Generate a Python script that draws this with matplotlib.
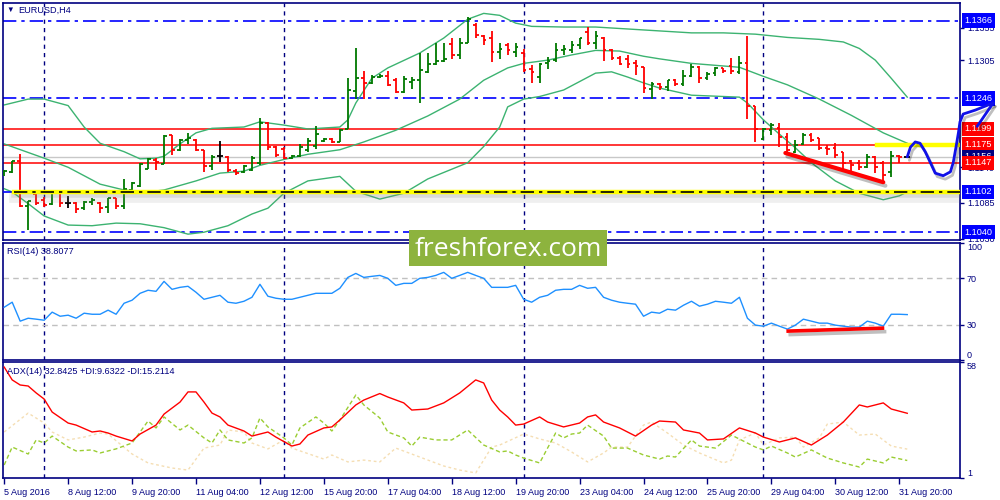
'''EURUSD H4 chart in MetaTrader style: bars, Bollinger bands, RSI and ADX panes.'''

import matplotlib
matplotlib.use('Agg')
import matplotlib.pyplot as plt
import matplotlib.patheffects as pe
import matplotlib.transforms as mtransforms
from matplotlib.patches import Rectangle

NAVY = '#000080'
UP, DOWN, DOJI = '#007800', '#ff0000', '#000000'
BB_COLOR = '#3cb371'
DASHDOT = (0, (8, 3, 2, 3))

# H4 bars from 5 Aug 2016 04:00 to 1 Sep 00:00
OPENS = [1.1130, 1.1133, 1.1150, 1.1080, 1.1099, 1.1090, 1.1084, 1.1102, 1.1085, 1.1085,
         1.1077, 1.1087, 1.1085, 1.1079, 1.1093, 1.1080, 1.1105, 1.1111, 1.1137, 1.1151,
         1.1145, 1.1190, 1.1167, 1.1182, 1.1182, 1.1167, 1.1142, 1.1157, 1.1156, 1.1134,
         1.1133, 1.1136, 1.1147, 1.1208, 1.1171, 1.1168, 1.1154, 1.1157, 1.1167, 1.1173,
         1.1180, 1.1183, 1.1179, 1.1199, 1.1257, 1.1277, 1.1270, 1.1279, 1.1280, 1.1274,
         1.1256, 1.1271, 1.1274, 1.1287, 1.1299, 1.1303, 1.1330, 1.1313, 1.1331, 1.1359,
         1.1342, 1.1339, 1.1317, 1.1328, 1.1317, 1.1316, 1.1291, 1.1279, 1.1300, 1.1305,
         1.1320, 1.1320, 1.1328, 1.1348, 1.1331, 1.1339, 1.1320, 1.1308, 1.1307, 1.1300,
         1.1294, 1.1260, 1.1268, 1.1263, 1.1274, 1.1268, 1.1280, 1.1294, 1.1277, 1.1285,
         1.1293, 1.1296, 1.1287, 1.1300, 1.1234, 1.1183, 1.1197, 1.1200, 1.1187, 1.1164,
         1.1176, 1.1190, 1.1185, 1.1170, 1.1170, 1.1164, 1.1150, 1.1147, 1.1140, 1.1156,
         1.1147, 1.1133, 1.1158, 1.1156]
HIGHS = [1.1136, 1.1150, 1.1160, 1.1088, 1.1102, 1.1094, 1.1102, 1.1102, 1.1096, 1.1087,
         1.1088, 1.1093, 1.1087, 1.1093, 1.1093, 1.1122, 1.1117, 1.1147, 1.1154, 1.1154,
         1.1190, 1.1190, 1.1183, 1.1193, 1.1183, 1.1167, 1.1159, 1.1180, 1.1157, 1.1137,
         1.1143, 1.1157, 1.1216, 1.1210, 1.1173, 1.1171, 1.1159, 1.1176, 1.1185, 1.1203,
         1.1185, 1.1185, 1.1199, 1.1277, 1.1323, 1.1288, 1.1282, 1.1283, 1.1288, 1.1277,
         1.1280, 1.1279, 1.1316, 1.1316, 1.1331, 1.1331, 1.1339, 1.1339, 1.1371, 1.1362,
         1.1343, 1.1350, 1.1331, 1.1331, 1.1331, 1.1322, 1.1297, 1.1300, 1.1310, 1.1331,
         1.1328, 1.1334, 1.1339, 1.1356, 1.1350, 1.1340, 1.1322, 1.1311, 1.1313, 1.1305,
         1.1294, 1.1271, 1.1270, 1.1274, 1.1276, 1.1290, 1.1299, 1.1296, 1.1287, 1.1294,
         1.1293, 1.1308, 1.1311, 1.1342, 1.1234, 1.1200, 1.1208, 1.1208, 1.1193, 1.1182,
         1.1193, 1.1193, 1.1185, 1.1174, 1.1177, 1.1164, 1.1151, 1.1151, 1.1160, 1.1157,
         1.1150, 1.1165, 1.1159, 1.1156]
LOWS = [1.1127, 1.1131, 1.1079, 1.1043, 1.1082, 1.1079, 1.1082, 1.1079, 1.1077, 1.1070,
        1.1074, 1.1082, 1.1070, 1.1070, 1.1076, 1.1076, 1.1100, 1.1110, 1.1137, 1.1136,
        1.1145, 1.1159, 1.1165, 1.1176, 1.1165, 1.1133, 1.1136, 1.1148, 1.1133, 1.1128,
        1.1131, 1.1134, 1.1143, 1.1167, 1.1156, 1.1153, 1.1153, 1.1156, 1.1164, 1.1168,
        1.1179, 1.1177, 1.1179, 1.1199, 1.1245, 1.1245, 1.1268, 1.1277, 1.1265, 1.1254,
        1.1254, 1.1260, 1.1239, 1.1285, 1.1297, 1.1302, 1.1307, 1.1307, 1.1331, 1.1339,
        1.1328, 1.1302, 1.1307, 1.1313, 1.1310, 1.1287, 1.1270, 1.1270, 1.1291, 1.1302,
        1.1313, 1.1316, 1.1322, 1.1328, 1.1322, 1.1303, 1.1305, 1.1297, 1.1293, 1.1282,
        1.1254, 1.1245, 1.1259, 1.1257, 1.1265, 1.1265, 1.1279, 1.1270, 1.1274, 1.1280,
        1.1285, 1.1283, 1.1283, 1.1214, 1.1179, 1.1182, 1.1190, 1.1171, 1.1162, 1.1162,
        1.1174, 1.1179, 1.1167, 1.1159, 1.1154, 1.1136, 1.1133, 1.1136, 1.1139, 1.1131,
        1.1117, 1.1125, 1.1147, 1.1156]
CLOSES = [1.1134, 1.1150, 1.1080, 1.1088, 1.1085, 1.1082, 1.1102, 1.1085, 1.1085, 1.1076,
          1.1087, 1.1090, 1.1077, 1.1093, 1.1080, 1.1107, 1.1116, 1.1145, 1.1153, 1.1148,
          1.1188, 1.1167, 1.1182, 1.1185, 1.1167, 1.1142, 1.1156, 1.1157, 1.1136, 1.1131,
          1.1142, 1.1154, 1.1208, 1.1171, 1.1159, 1.1154, 1.1157, 1.1171, 1.1180, 1.1191,
          1.1183, 1.1179, 1.1197, 1.1259, 1.1277, 1.1270, 1.1279, 1.1280, 1.1267, 1.1256,
          1.1276, 1.1274, 1.1290, 1.1299, 1.1303, 1.1307, 1.1313, 1.1331, 1.1368, 1.1343,
          1.1336, 1.1317, 1.1322, 1.1320, 1.1325, 1.1290, 1.1287, 1.1299, 1.1303, 1.1320,
          1.1322, 1.1328, 1.1339, 1.1331, 1.1342, 1.1320, 1.1308, 1.1299, 1.1299, 1.1296,
          1.1262, 1.1268, 1.1263, 1.1274, 1.1268, 1.1280, 1.1294, 1.1277, 1.1283, 1.1293,
          1.1288, 1.1288, 1.1300, 1.1234, 1.1199, 1.1199, 1.1205, 1.1187, 1.1167, 1.1174,
          1.1190, 1.1182, 1.1170, 1.1168, 1.1159, 1.1147, 1.1143, 1.1140, 1.1156, 1.1140,
          1.1128, 1.1157, 1.1156, 1.1156]

# Bollinger bands (20) read at selected bars: (bar, price)
BB_UPPER = [(0, 1.1236), (3, 1.1245), (5, 1.1245), (8, 1.1235), (10, 1.1202), (12, 1.1177),
            (15, 1.1164), (17, 1.1153), (19, 1.1154), (20, 1.1157), (22, 1.1176), (24, 1.1193),
            (26, 1.1200), (30, 1.1202), (32, 1.1210), (35, 1.1205), (38, 1.1199), (42, 1.1202),
            (43, 1.1213), (44, 1.1239), (46, 1.1277), (48, 1.1293), (52, 1.1316), (55, 1.1339),
            (58, 1.1368), (60, 1.1377), (62, 1.1374), (64, 1.1362), (66, 1.1357), (70, 1.1356),
            (74, 1.1356), (78, 1.1353), (82, 1.1350), (86, 1.1347), (90, 1.1347), (94, 1.1345),
            (98, 1.1340), (102, 1.1337), (105, 1.1333), (107, 1.1323), (109, 1.1305),
            (111, 1.1277), (113, 1.1248)]
BB_MIDDLE = [(0, 1.1176), (5, 1.1154), (8, 1.1140), (12, 1.1114), (15, 1.1105), (18, 1.1102),
             (20, 1.1105), (24, 1.1119), (27, 1.1131), (30, 1.1134), (32, 1.1143), (35, 1.1152),
             (38, 1.1160), (42, 1.1167), (45, 1.1179), (49, 1.1197), (53, 1.1219), (57, 1.1245),
             (60, 1.1274), (63, 1.1293), (65, 1.1300), (68, 1.1305), (71, 1.1313), (74, 1.1320),
             (77, 1.1319), (80, 1.1311), (82, 1.1307), (86, 1.1300), (92, 1.1294), (95, 1.1280),
             (98, 1.1267), (102, 1.1245), (106, 1.1220), (110, 1.1193), (113, 1.1177)]
BB_LOWER = [(0, 1.1107), (1, 1.1102), (3, 1.1084), (5, 1.1065), (8, 1.1051), (11, 1.1050),
            (14, 1.1054), (17, 1.1053), (20, 1.1047), (23, 1.1037), (25, 1.1040), (28, 1.1050),
            (31, 1.1068), (33, 1.1077), (35, 1.1100), (38, 1.1119), (42, 1.1126), (44, 1.1103),
            (47, 1.1091), (50, 1.1100), (53, 1.1122), (56, 1.1137), (58, 1.1147), (60, 1.1172),
            (62, 1.1202), (63, 1.1233), (65, 1.1245), (67, 1.1249), (70, 1.1259), (72, 1.1272),
            (74, 1.1285), (76, 1.1287), (78, 1.1279), (80, 1.1270), (82, 1.1262), (86, 1.1251),
            (92, 1.1248), (93, 1.1239), (95, 1.1213), (97, 1.1191), (99, 1.1170), (101, 1.1147),
            (104, 1.1119), (107, 1.1100), (110, 1.1090), (112, 1.1096), (113, 1.1102)]

RSI = [45.1, 49.4, 33.2, 35.7, 34.9, 34.0, 40.9, 37.4, 38.3, 35.7,
       40.0, 39.1, 39.1, 42.6, 39.1, 48.5, 51.1, 57.0, 59.6, 58.7,
       67.2, 60.4, 62.1, 63.0, 57.9, 51.9, 53.6, 55.3, 49.4, 48.5,
       50.2, 53.6, 64.7, 54.5, 52.8, 51.9, 51.9, 53.6, 55.3, 57.0,
       57.0, 57.0, 61.3, 70.6, 74.0, 70.6, 71.5, 72.3, 69.8, 63.8,
       65.5, 65.5, 69.8, 70.6, 72.3, 74.9, 69.8, 72.3, 74.9, 72.3,
       69.8, 62.1, 62.1, 62.1, 63.8, 51.9, 49.4, 53.6, 55.3, 59.6,
       60.4, 60.4, 63.8, 61.3, 62.1, 53.6, 51.1, 49.4, 48.5, 47.7,
       37.4, 40.9, 40.0, 43.4, 42.6, 46.8, 50.2, 46.0, 47.7, 50.2,
       49.4, 48.5, 53.6, 35.7, 29.8, 28.9, 31.5, 28.9, 26.4, 29.8,
       34.9, 33.2, 31.5, 31.5, 29.8, 28.9, 28.1, 28.1, 33.2, 31.5,
       28.9, 39.1, 39.1, 38.8]

# ADX(14) lines read at selected bars: (bar, value)
ADX = [(0, 55.5), (1, 49.2), (2, 46.7), (3, 46.2), (4, 42.8), (5, 39.8), (6, 33.4), (8, 28.0),
       (9, 27.0), (11, 23.6), (12, 24.1), (13, 23.1), (14, 21.6), (16, 19.2), (17, 22.6),
       (19, 27.0), (20, 32.4), (22, 38.3), (23, 43.3), (24, 43.3), (25, 38.3), (26, 32.9),
       (27, 31.0), (28, 27.0), (30, 24.1), (31, 21.6), (32, 22.6), (33, 23.6), (34, 21.1),
       (36, 16.7), (37, 17.7), (38, 22.1), (40, 25.6), (41, 26.1), (42, 29.5), (44, 36.9),
       (45, 39.3), (47, 42.5), (48, 40.8), (50, 37.9), (51, 34.4), (53, 34.9), (55, 37.9),
       (57, 42.8), (59, 49.2), (60, 47.7), (61, 39.3), (62, 34.4), (63, 31.0), (64, 27.0),
       (65, 27.5), (67, 31.0), (68, 28.5), (70, 26.1), (72, 28.0), (73, 31.0), (74, 32.0),
       (75, 28.5), (77, 25.6), (79, 21.6), (81, 27.0), (82, 29.0), (84, 28.5), (85, 24.6),
       (87, 23.1), (88, 19.7), (90, 20.2), (92, 25.6), (94, 23.1), (95, 21.1), (97, 18.7),
       (99, 20.7), (101, 17.2), (103, 22.1), (105, 28.5), (107, 36.9), (108, 35.9),
       (110, 37.9), (111, 34.9), (113, 32.8)]
PLUS_DI = [(0, 7.4), (1, 16.2), (3, 12.8), (4, 19.7), (5, 18.2), (6, 21.6), (8, 16.2),
           (9, 14.3), (11, 14.8), (12, 13.3), (14, 15.3), (16, 18.2), (18, 29.0), (19, 25.6),
           (20, 31.0), (22, 24.6), (23, 27.0), (25, 20.7), (26, 18.2), (27, 24.6), (28, 19.7),
           (30, 18.2), (31, 20.7), (32, 30.5), (33, 26.1), (35, 20.7), (36, 17.2), (37, 25.6),
           (39, 31.0), (40, 28.0), (41, 24.1), (42, 29.5), (44, 41.8), (45, 36.9), (47, 30.5),
           (48, 23.6), (50, 20.7), (51, 16.7), (52, 21.1), (54, 19.7), (56, 19.7), (58, 24.6),
           (60, 17.2), (62, 13.8), (63, 14.3), (64, 12.3), (65, 10.8), (67, 8.4), (69, 23.1),
           (70, 20.7), (71, 22.6), (72, 23.1), (73, 27.0), (75, 21.6), (76, 15.7), (78, 15.7),
           (80, 12.3), (82, 10.3), (83, 11.8), (84, 11.3), (86, 19.7), (87, 16.7), (89, 15.7),
           (91, 22.1), (94, 16.2), (95, 14.8), (96, 16.7), (98, 13.3), (99, 11.3), (101, 14.8),
           (103, 10.8), (105, 8.4), (107, 6.4), (108, 10.3), (110, 8.4), (111, 11.3), (113, 9.6)]
MINUS_DI = [(0, 23.6), (3, 32.9), (5, 28.0), (6, 23.6), (8, 19.7), (10, 21.1), (12, 23.1),
            (13, 22.6), (16, 12.8), (18, 8.4), (21, 5.9), (23, 4.9), (25, 15.7), (27, 17.2),
            (28, 24.6), (30, 23.6), (31, 18.2), (33, 15.3), (35, 19.7), (36, 15.7), (40, 10.3),
            (41, 12.3), (43, 8.9), (45, 9.8), (47, 8.9), (49, 15.7), (52, 11.3), (55, 6.9),
            (57, 4.9), (59, 3.5), (60, 9.8), (61, 16.2), (62, 17.2), (65, 22.6), (67, 20.2),
            (69, 18.2), (71, 13.8), (73, 8.9), (75, 13.3), (76, 16.2), (78, 16.2), (80, 27.0),
            (81, 28.5), (83, 23.1), (85, 17.2), (87, 13.3), (90, 8.4), (91, 9.8), (92, 19.7),
            (94, 23.1), (95, 17.2), (97, 20.7), (99, 21.1), (100, 16.2), (102, 20.7), (103, 27.5),
            (105, 28.5), (107, 22.1), (109, 22.6), (111, 16.7), (113, 15.2)]

# horizontal levels and their price tags
BLUE_LEVELS = [1.1366, 1.1246, 1.1040]
RED_LEVELS = [1.1199, 1.1175, 1.1147]
SUPPORT = 1.1102
BID = 1.1156
PRICE_TAGS = [(1.1366, 'blue'), (1.1246, 'blue'), (1.1199, 'red'), (1.1175, 'red'),
              (1.1156, NAVY), (1.1147, 'red'), (1.1102, 'blue'), (1.1040, 'blue')]
# scale values left visible beside the tags
PRICE_TICKS = [1.1355, 1.1305, 1.1140, 1.1085, 1.1030]

# hand drawn analysis
TREND_BARS, TREND_PRICES = [97.75, 110.0], [1.1162, 1.1117]
RSI_TREND_BARS, RSI_TREND_VALUES = [98.1, 109.9], [24.7, 27.2]
FORECAST_BARS = [113, 113.4, 114, 114.6, 115.25, 115.9, 116.5, 117.5, 118.4, 118.75,
                 119.1, 119.4, 119.6, 120, 121.5, 123.75]
FORECAST_PRICES = [1.1156, 1.1171, 1.1179, 1.1177, 1.1164, 1.1147, 1.1131, 1.1127, 1.1133,
                   1.1147, 1.1171, 1.1193, 1.1210, 1.1222, 1.1228, 1.1239]
ARROW_BARS, ARROW_PRICES = [121.75, 123.75], [1.1203, 1.1239]

DATE_LABELS = ['5 Aug 2016', '8 Aug 12:00', '9 Aug 20:00', '11 Aug 04:00', '12 Aug 12:00',
               '15 Aug 20:00', '17 Aug 04:00', '18 Aug 12:00', '19 Aug 20:00', '23 Aug 04:00',
               '24 Aug 12:00', '25 Aug 20:00', '29 Aug 04:00', '30 Aug 12:00', '31 Aug 20:00']
DATE_BARS = list(range(0, 113, 8))
WEEK_STARTS = [5, 35, 65, 95]

XMIN, XMAX = -0.15, 119.6
TICK = 0.35


def shadow(dx=1.5, dy=-2.5, alpha=0.25, **kw):
    '''Drop shadow used for the drawn objects.'''
    return [pe.SimpleLineShadow(offset=(dx, dy), shadow_color='black', alpha=alpha, **kw),
            pe.Normal()]


def style_pane(ax):
    '''MT4-like frame and right hand scale.'''
    for spine in ax.spines.values():
        spine.set_color(NAVY)
        spine.set_linewidth(1.2)
    ax.yaxis.tick_right()
    ax.tick_params(axis='y', direction='out', length=3, width=1, colors=NAVY,
                   labelsize=6.5, pad=2)
    ax.set_xlim(XMIN, XMAX)
    for b in WEEK_STARTS:
        ax.axvline(b, color=NAVY, ls=(0, (3, 3)), lw=1, zorder=1)


def split(points):
    return [p[0] for p in points], [p[1] for p in points]


def draw_main(ax):
    '''Price bars, bands, levels and annotations.'''
    for band in (BB_UPPER, BB_MIDDLE, BB_LOWER):
        ax.plot(*split(band), color=BB_COLOR, lw=1, zorder=2)

    for p in BLUE_LEVELS:
        ax.axhline(p, color='blue', lw=1.2, ls=DASHDOT, zorder=1.5)
    ax.axhline(BID, color='#c8c8c8', lw=1, zorder=1.5)
    for p in RED_LEVELS:
        ax.axhline(p, color='red', lw=1.1, zorder=1.6)

    # yellow support with black dash-dot on top, soft shadow under it
    ax.plot([XMIN, 1.25], [SUPPORT, SUPPORT], color='blue', lw=1.2, zorder=4)
    ax.plot([1.25, XMAX], [SUPPORT, SUPPORT], color='yellow', lw=3.2, zorder=4,
            path_effects=[pe.SimpleLineShadow(offset=(0, -4), shadow_color='gray',
                                              alpha=0.12, linewidth=7),
                          pe.SimpleLineShadow(offset=(0, -2.5), shadow_color='gray',
                                              alpha=0.18, linewidth=4),
                          pe.Normal()])
    ax.plot([1.25, XMAX], [SUPPORT, SUPPORT], color='black', lw=1.2, ls=DASHDOT, zorder=4.1)
    ax.plot([109.25, XMAX], [1.1175, 1.1175], color='yellow', lw=3.2, zorder=4)

    for i, (o, h, l, c) in enumerate(zip(OPENS, HIGHS, LOWS, CLOSES)):
        color = UP if c > o else DOWN if c < o else DOJI
        ax.vlines(i, l, h, color=color, lw=1.3, zorder=3)
        ax.hlines(o, i - TICK, i, color=color, lw=1.3, zorder=3)
        ax.hlines(c, i, i + TICK, color=color, lw=1.3, zorder=3)

    ax.plot(TREND_BARS, TREND_PRICES, color='red', lw=3, solid_capstyle='round', zorder=5,
            path_effects=shadow())
    ax.plot(FORECAST_BARS, FORECAST_PRICES, color='#1010e8', lw=2, clip_on=False, zorder=9,
            solid_capstyle='round', path_effects=shadow())
    ax.plot(ARROW_BARS, ARROW_PRICES, color='#1010e8', lw=2, clip_on=False, zorder=9,
            solid_capstyle='round', path_effects=shadow())

    ax.set_ylim(1.1028, 1.1393)
    ax.set_yticks(PRICE_TICKS)
    ax.set_yticklabels([f'{t:.4f}' for t in PRICE_TICKS])

    trans = mtransforms.blended_transform_factory(ax.transAxes, ax.transData)
    for price, color in PRICE_TAGS:
        ax.text(1.0045, price, f'{price:.4f}', transform=trans, color='white', fontsize=6.6,
                ha='left', va='center', clip_on=False, zorder=8,
                bbox=dict(boxstyle='square,pad=0.28', fc=color, ec='none'))


def draw_rsi(ax):
    ax.plot(range(len(RSI)), RSI, color='#1e90ff', lw=1, zorder=3)
    for level in (30, 70):
        ax.axhline(level, color='#c0c0c0', ls=(0, (4, 3)), lw=1, zorder=1)
    ax.plot(RSI_TREND_BARS, RSI_TREND_VALUES, color='red', lw=2.6, zorder=5,
            path_effects=shadow())
    ax.set_ylim(0, 100)
    ax.set_yticks([100, 70, 30, 0])
    labels = ax.get_yticklabels()
    labels[0].set_va('top')
    labels[-1].set_va('bottom')


def draw_adx(ax):
    ax.plot(*split(MINUS_DI), color='#f5deb3', lw=1, ls=(0, (2, 2)), zorder=2)
    ax.plot(*split(PLUS_DI), color='#9acd32', lw=1, ls=(0, (3, 2)), zorder=2.1)
    ax.plot(*split(ADX), color='red', lw=1, zorder=3)
    ax.set_ylim(1, 58)
    ax.set_yticks([58, 1])
    labels = ax.get_yticklabels()
    labels[0].set_va('top')
    labels[-1].set_va('bottom')
    ax.set_xticks(DATE_BARS)
    ax.set_xticklabels(DATE_LABELS, ha='left')
    ax.tick_params(axis='x', direction='out', length=4, width=1, colors=NAVY,
                   labelsize=6.5, pad=3)


plt.rcParams['font.family'] = ['Liberation Sans', 'DejaVu Sans']

fig = plt.figure(figsize=(10, 5), dpi=100)
ax_main = fig.add_axes([0.003, 0.52, 0.957, 0.474])
ax_rsi = fig.add_axes([0.003, 0.28, 0.957, 0.234])
ax_adx = fig.add_axes([0.003, 0.044, 0.957, 0.232])

for ax in (ax_main, ax_rsi, ax_adx):
    style_pane(ax)
for ax in (ax_main, ax_rsi):
    ax.tick_params(axis='x', bottom=False, labelbottom=False)

draw_main(ax_main)
draw_rsi(ax_rsi)
draw_adx(ax_adx)

# pane captions
fig.text(0.0065, 0.980, '\u25bc', color=NAVY, fontsize=5.5, va='center')
fig.text(0.018, 0.980, 'EURUSD,H4', color=NAVY, fontsize=6.6, va='center')
fig.text(0.007, 0.498, 'RSI(14) 38.8077', color=NAVY, fontsize=6.6, va='center')
fig.text(0.007, 0.258, 'ADX(14) 32.8425 +DI:9.6322 -DI:15.2114', color=NAVY,
         fontsize=6.6, va='center')

# watermark
fig.add_artist(Rectangle((0.409, 0.468), 0.198, 0.072, transform=fig.transFigure,
                         facecolor='#8db33e', edgecolor='none', zorder=10))
fig.text(0.508, 0.502, 'freshforex.com', color='white', fontsize=19, family='Open Sans',
         ha='center', va='center', zorder=11)

fig.savefig('out.png', dpi=100)
